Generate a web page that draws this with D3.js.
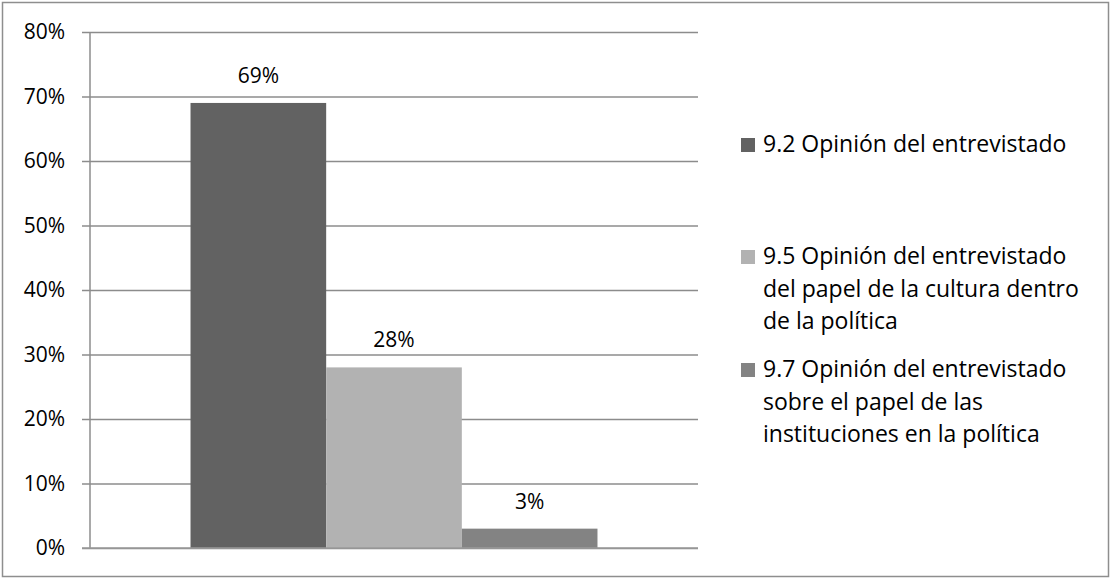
<!DOCTYPE html>
<html>
<head>
<meta charset="utf-8">
<script src="https://cdn.jsdelivr.net/npm/d3@7"></script>
<style>
  html, body { margin: 0; padding: 0; background: #fff; }
  svg { display: block; font-family: "Open Sans", "Noto Sans", sans-serif; }
</style>
</head>
<body>
<svg id="chart" width="1111" height="579"></svg>
<script>
// Survey answers, share of respondents per question
const categories = [""];
const seriesNames = [
  "9.2 Opinión del entrevistado",
  "9.5 Opinión del entrevistado del papel de la cultura dentro de la política",
  "9.7 Opinión del entrevistado sobre el papel de las instituciones en la política"
];
const legendLines = [
  ["9.2 Opinión del entrevistado"],
  ["9.5 Opinión del entrevistado", "del papel de la cultura dentro", "de la política"],
  ["9.7 Opinión del entrevistado", "sobre el papel de las", "instituciones en la política"]
];
const seriesValues = [0.69, 0.28, 0.03];
const yTicks = [0, 0.1, 0.2, 0.3, 0.4, 0.5, 0.6, 0.7, 0.8];
const colors = ["#626262", "#b2b2b2", "#838383"];

const svg = d3.select("#chart");
const plot = { left: 90, right: 698, top: 32, bottom: 548 };
const fmt = d3.format(".0%");

// Outer chart frame
svg.append("rect")
  .attr("x", 2.5).attr("y", 2.5)
  .attr("width", 1106).attr("height", 574)
  .attr("fill", "#fff")
  .attr("stroke", "#8e8e8e").attr("stroke-width", 1.5);

const y = d3.scaleLinear().domain([0, 0.8]).range([plot.bottom, plot.top]);
const x0 = d3.scaleBand().domain(categories)
  .range([plot.left, plot.right]).paddingInner(0).paddingOuter(0.247);
const x1 = d3.scaleBand().domain(d3.range(seriesNames.length))
  .range([0, x0.bandwidth()]).padding(0);

// Gridlines with tick marks to the left of the axis
const yAxis = d3.axisLeft(y).tickValues(yTicks).tickFormat(fmt)
  .tickSize(-(plot.right - plot.left)).tickPadding(25);
const gAxis = svg.append("g")
  .attr("transform", `translate(${plot.left},0)`)
  .call(yAxis);
gAxis.select(".domain").remove();
gAxis.selectAll(".tick line")
  .attr("x1", -8)
  .attr("stroke", "#8c8c8c").attr("stroke-width", 1.5);
gAxis.selectAll(".tick text")
  .attr("font-size", 21).attr("fill", "#000")
  .attr("font-family", "\"Open Sans\", sans-serif");

// Vertical axis line
svg.append("line")
  .attr("x1", plot.left).attr("x2", plot.left)
  .attr("y1", y(0.8)).attr("y2", y(0))
  .attr("stroke", "#8c8c8c").attr("stroke-width", 1.5);

// Bars
const group = svg.append("g")
  .attr("transform", `translate(${x0(categories[0])},0)`);
group.selectAll("rect.bar")
  .data(seriesValues)
  .join("rect")
  .attr("class", "bar")
  .attr("x", (d, i) => x1(i))
  .attr("width", x1.bandwidth())
  .attr("y", d => y(d))
  .attr("height", d => y(0) - y(d))
  .attr("fill", (d, i) => colors[i]);

// Value labels
group.selectAll("text.val")
  .data(seriesValues)
  .join("text")
  .attr("class", "val")
  .attr("x", (d, i) => x1(i) + x1.bandwidth() / 2)
  .attr("y", d => y(d) - 20)
  .attr("text-anchor", "middle")
  .attr("font-size", 21)
  .text(d => fmt(d));

// Baseline
svg.append("line")
  .attr("x1", plot.left - 8).attr("x2", plot.right)
  .attr("y1", y(0)).attr("y2", y(0))
  .attr("stroke", "#9a9a9a").attr("stroke-width", 1.5);

// Legend
const legendTop = [138, 250, 363];
const legend = svg.append("g");
legendLines.forEach((lines, i) => {
  const g = legend.append("g").attr("transform", `translate(741,${legendTop[i]})`);
  g.append("rect").attr("width", 14).attr("height", 14).attr("fill", colors[i]);
  lines.forEach((t, j) => {
    g.append("text")
      .attr("x", 22).attr("y", 14 + j * 32.5)
      .attr("font-size", 23)
      .text(t);
  });
});
</script>
</body>
</html>
